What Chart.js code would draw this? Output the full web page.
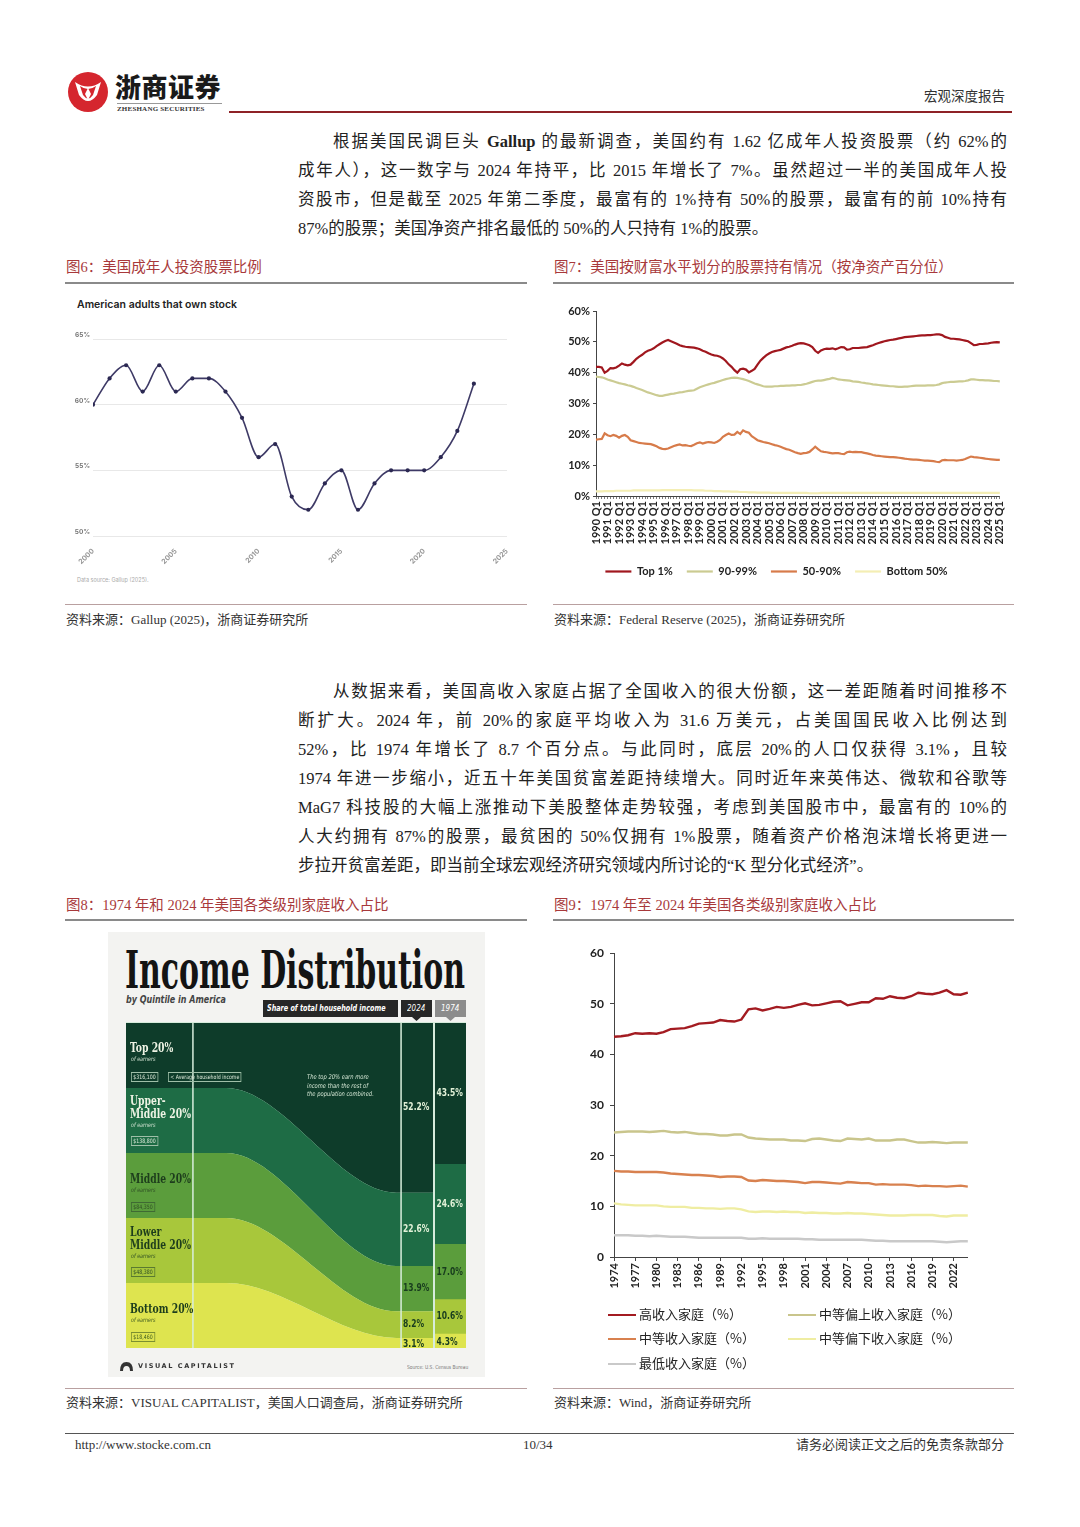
<!DOCTYPE html>
<html>
<head>
<meta charset="utf-8">
<script src="https://cdn.jsdelivr.net/npm/chart.js@4.4.1/dist/chart.umd.min.js"></script>
<style>
  body { margin: 0; background: #fff; }
  #page { position: relative; width: 1080px; height: 1527px; overflow: hidden; background: #fff;
          font-family: "Liberation Serif", "Noto Sans CJK SC", serif; color: #222; }
  .a { position: absolute; white-space: nowrap; }
  .jl { position: absolute; left: 298px; width: 709px; text-align: justify; text-align-last: justify;
        font-size: 16.5px; line-height: 22px; height: 22px; }
  .last { text-align-last: left; }
  .cap { font-size: 14.5px; color: #a8393b; line-height: 20px; }
  .src { font-size: 13px; color: #333; line-height: 18px; }
  .hr { position: absolute; }
  canvas { position: absolute; }
  .nar { font-family: "DejaVu Sans", sans-serif; transform-origin: left top; }
  .qt { position: absolute; font-family: "DejaVu Serif", serif; font-weight: bold;
        font-size: 12.5px; line-height: 13px; white-space: nowrap; transform: scaleX(0.74); transform-origin: left top; }
  .oe { position: absolute; font-family: "DejaVu Sans", sans-serif; font-style: italic;
        font-size: 6px; white-space: nowrap; transform: scaleX(0.8); transform-origin: left top; }
  .bx { position: absolute; font-family: "DejaVu Sans", sans-serif; font-size: 6px;
        line-height: 8px; padding: 0 2px; border: 0.8px solid; white-space: nowrap; transform: scaleX(0.78); transform-origin: left top; }
  .lg { position: absolute; font-family: "Noto Sans CJK SC", sans-serif; font-size: 13px; color: #222; white-space: nowrap; line-height: 16px; }
  .lg i { display: inline-block; width: 28px; height: 0; border-top: 2.5px solid; vertical-align: middle; margin-right: 3px; }
</style>
</head>
<body>
<div id="page">

  <!-- header -->
  <svg class="a" style="left:67px;top:71px" width="42" height="42" viewBox="0 0 42 42">
    <circle cx="21" cy="21" r="20" fill="#d5262e"/>
    <path d="M8 11 Q21 20 34 11 L30 24 Q21 36 12 24 Z" fill="#fff"/>
    <path d="M13 15 Q21 21 29 15 L26 24 Q21 31 16 24 Z" fill="#d5262e"/>
    <path d="M21 17 L24 23 L21 29 L18 23 Z" fill="#fff"/>
  </svg>
  <div class="a" style="left:115px;top:70px;font-family:'Noto Sans CJK SC';font-weight:900;font-size:26px;line-height:32px;color:#1a1a1a;letter-spacing:0.5px">浙商证券</div>
  <div class="hr" style="left:117px;top:103px;width:105px;border-top:1px solid #999"></div>
  <div class="a" style="left:117px;top:105px;font-family:'Liberation Serif';font-weight:bold;font-size:7px;line-height:9px;letter-spacing:0.2px;color:#333">ZHESHANG SECURITIES</div>
  <div class="hr" style="left:229px;top:111px;width:783px;border-top:2px solid #8e2226"></div>
  <div class="a" style="left:924px;top:88px;font-size:13.5px;line-height:18px;color:#333">宏观深度报告</div>

  <!-- paragraph 1 -->
  <div class="jl" style="left:333px;width:674px;top:131px">根据美国民调巨头 <b>Gallup</b> 的最新调查，美国约有 1.62 亿成年人投资股票（约 62%的</div>
  <div class="jl" style="top:160px">成年人），这一数字与 2024 年持平，比 2015 年增长了 7%。虽然超过一半的美国成年人投</div>
  <div class="jl" style="top:189px">资股市，但是截至 2025 年第二季度，最富有的 1%持有 50%的股票，最富有的前 10%持有</div>
  <div class="jl last" style="top:218px">87%的股票；美国净资产排名最低的 50%的人只持有 1%的股票。</div>

  <!-- figure 6 / 7 captions -->
  <div class="a cap" style="left:66px;top:257px">图6：美国成年人投资股票比例</div>
  <div class="hr" style="left:65px;top:282px;width:462px;border-top:2px solid #8a8a8a"></div>
  <div class="a cap" style="left:554px;top:257px">图7：美国按财富水平划分的股票持有情况（按净资产百分位）</div>
  <div class="hr" style="left:553px;top:282px;width:461px;border-top:2px solid #8a8a8a"></div>

  <div class="a" style="left:77px;top:298px;font-family:Inter,'Liberation Sans',sans-serif;font-weight:600;font-size:10.5px;line-height:14px;color:#222">American adults that own stock</div>
  <canvas id="fig6" width="455" height="240" style="left:65px;top:330px"></canvas>
  <div class="a" style="left:77px;top:576px;font-family:Inter,sans-serif;font-size:5.5px;line-height:8px;color:#aaa">Data source: Gallup (2025).</div>

  <canvas id="fig7" width="462" height="287" style="left:553px;top:300px"></canvas>

  <div class="hr" style="left:65px;top:604px;width:462px;border-top:1px solid #b9a0a0"></div>
  <div class="hr" style="left:553px;top:604px;width:461px;border-top:1px solid #b9a0a0"></div>
  <div class="a src" style="left:66px;top:611px">资料来源：Gallup (2025)，浙商证券研究所</div>
  <div class="a src" style="left:554px;top:611px">资料来源：Federal Reserve (2025)，浙商证券研究所</div>

  <!-- paragraph 2 -->
  <div class="jl" style="left:333px;width:674px;top:681px">从数据来看，美国高收入家庭占据了全国收入的很大份额，这一差距随着时间推移不</div>
  <div class="jl" style="top:710px">断扩大。2024 年，前 20%的家庭平均收入为 31.6 万美元，占美国国民收入比例达到</div>
  <div class="jl" style="top:739px">52%，比 1974 年增长了 8.7 个百分点。与此同时，底层 20%的人口仅获得 3.1%，且较</div>
  <div class="jl" style="top:768px">1974 年进一步缩小，近五十年美国贫富差距持续增大。同时近年来英伟达、微软和谷歌等</div>
  <div class="jl" style="top:797px">MaG7 科技股的大幅上涨推动下美股整体走势较强，考虑到美国股市中，最富有的 10%的</div>
  <div class="jl" style="top:826px">人大约拥有 87%的股票，最贫困的 50%仅拥有 1%股票，随着资产价格泡沫增长将更进一</div>
  <div class="jl last" style="top:855px">步拉开贫富差距，即当前全球宏观经济研究领域内所讨论的“K 型分化式经济”。</div>

  <!-- figure 8 / 9 captions -->
  <div class="a cap" style="left:66px;top:895px">图8：1974 年和 2024 年美国各类级别家庭收入占比</div>
  <div class="hr" style="left:65px;top:919px;width:462px;border-top:2px solid #8a8a8a"></div>
  <div class="a cap" style="left:554px;top:895px">图9：1974 年至 2024 年美国各类级别家庭收入占比</div>
  <div class="hr" style="left:553px;top:919px;width:461px;border-top:2px solid #8a8a8a"></div>

  <!-- figure 8 infographic -->
  <div class="hr" style="left:108px;top:932px;width:377px;height:445px;background:#f3f3f1"></div>
  <div id="ttl" class="a" style="left:125px;top:942px;font-family:'DejaVu Serif',serif;font-weight:bold;font-size:52px;line-height:56px;color:#141414;transform-origin:left top">Income Distribution</div>
  <div class="a nar" style="left:126px;top:993px;font-style:italic;font-weight:bold;font-size:10.5px;line-height:12px;color:#444;transform:scaleX(0.76)">by Quintile in America</div>
  <div class="a" style="left:263px;top:1000px;width:135px;height:17px;background:#272727"></div>
  <div class="a nar" style="left:267px;top:1000px;color:#fff;font-style:italic;font-weight:bold;font-size:8.5px;line-height:17px;transform:scaleX(0.76)">Share of total household income</div>
  <div class="a" style="left:401px;top:1000px;width:31px;height:17px;background:#272727"></div>
  <div class="a nar" style="left:407px;top:1000px;color:#fff;font-style:italic;font-size:9px;line-height:17px;transform:scaleX(0.8)">2024</div>
  <div class="a" style="left:435px;top:1000px;width:31px;height:17px;background:#8c8c8c"></div>
  <div class="a nar" style="left:441px;top:1000px;color:#fff;font-style:italic;font-size:9px;line-height:17px;transform:scaleX(0.8)">1974</div>
  <svg class="a" style="left:412px;top:1017px" width="9" height="4"><path d="M0 0 L9 0 L4.5 4 Z" fill="#272727"/></svg>
  <svg class="a" style="left:446px;top:1017px" width="9" height="4"><path d="M0 0 L9 0 L4.5 4 Z" fill="#8c8c8c"/></svg>
  <div class="hr" style="left:126px;top:1022px;width:340px;height:326px;background:#d7ecdc"></div>
  <canvas id="fig8flow" width="307" height="325" style="left:126px;top:1023px"></canvas>
  <canvas id="fig8col" width="31" height="325" style="left:435px;top:1023px"></canvas>

  <div class="qt" style="left:130px;top:1041px;color:#eef3e4">Top 20%</div>
  <div class="oe" style="left:131px;top:1055px;color:#cfe0cf">of earners</div>
  <div class="bx" style="left:131px;top:1072px;color:#dbe8d8;border-color:#9fbfa8">$316,100</div>
  <div class="bx" style="left:168px;top:1072px;color:#dbe8d8;border-color:#9fbfa8">&lt; Average household income</div>
  <div class="a nar" style="left:307px;top:1073px;font-style:italic;font-size:6.5px;line-height:8.5px;color:#d4e6d4;transform:scaleX(0.8)">The top 20% earn more<br>income than the rest of<br>the population combined.</div>

  <div class="qt" style="left:130px;top:1094px;color:#eef3e4">Upper-<br>Middle 20%</div>
  <div class="oe" style="left:131px;top:1121px;color:#cfe0cf">of earners</div>
  <div class="bx" style="left:131px;top:1136px;color:#dbe8d8;border-color:#9fbfa8">$138,800</div>

  <div class="qt" style="left:130px;top:1172px;color:#1d3d1c">Middle 20%</div>
  <div class="oe" style="left:131px;top:1186px;color:#2f4f25">of earners</div>
  <div class="bx" style="left:131px;top:1202px;color:#2f4f25;border-color:#3f6a33">$84,350</div>

  <div class="qt" style="left:130px;top:1225px;color:#1d3d1c">Lower<br>Middle 20%</div>
  <div class="oe" style="left:131px;top:1252px;color:#2f4f25">of earners</div>
  <div class="bx" style="left:131px;top:1267px;color:#2f4f25;border-color:#5a7a30">$48,380</div>

  <div class="qt" style="left:130px;top:1302px;color:#1d3d1c">Bottom 20%</div>
  <div class="oe" style="left:131px;top:1316px;color:#3d5a20">of earners</div>
  <div class="bx" style="left:131px;top:1332px;color:#3d5a20;border-color:#7b8f30">$18,460</div>

  <svg class="a" style="left:119px;top:1361px" width="15" height="11" viewBox="0 0 15 11">
    <path d="M1 10 Q1 1 7.5 1 Q14 1 14 10 L11 10 Q11 5 7.5 5 Q4 5 4 10 Z" fill="#333"/>
  </svg>
  <div class="a" style="left:138px;top:1362px;font-family:'DejaVu Sans',sans-serif;font-weight:bold;font-size:6.5px;line-height:9px;letter-spacing:1.6px;color:#333">VISUAL CAPITALIST</div>
  <div class="a nar" style="left:407px;top:1363px;font-size:5.5px;line-height:8px;color:#777;transform:scaleX(0.8)">Source: U.S. Census Bureau</div>

  <!-- figure 9 -->
  <canvas id="fig9" width="430" height="365" style="left:553px;top:940px"></canvas>

  <div class="hr" style="left:65px;top:1388px;width:462px;border-top:1px solid #b9a0a0"></div>
  <div class="hr" style="left:553px;top:1388px;width:461px;border-top:1px solid #b9a0a0"></div>
  <div class="a src" style="left:66px;top:1394px">资料来源：VISUAL CAPITALIST，美国人口调查局，浙商证券研究所</div>
  <div class="a src" style="left:554px;top:1394px">资料来源：Wind，浙商证券研究所</div>

  <!-- footer -->
  <div class="hr" style="left:65px;top:1433px;width:949px;border-top:1px solid #555"></div>
  <div class="a src" style="left:75px;top:1436px">http://www.stocke.com.cn</div>
  <div class="a src" style="left:523px;top:1436px">10/34</div>
  <div class="a src" style="left:772px;top:1436px;width:232px;text-align:right">请务必阅读正文之后的免责条款部分</div>
</div>

<script>
// ---------- data: figure 6 (Gallup) ----------
const years6 = [2000, 2001, 2002, 2003, 2004, 2005, 2006, 2007, 2008, 2009, 2010, 2011,
                2012, 2013, 2014, 2015, 2016, 2017, 2018, 2019, 2020, 2021, 2022, 2023];
const ownStock6 = [60, 62, 63, 61, 63, 61, 62, 62, 61, 59, 56, 57,
                   53, 52, 54, 55, 52, 54, 55, 55, 55, 56, 58, 61.6];

// ---------- data: figure 7 (Fed DFA, quarterly 1990Q1-2025Q1) ----------
const quarters7 = [];
for (let yr = 1990; yr <= 2025; yr++) {
  for (let q = 1; q <= 4; q++) {
    if (yr < 2025 || q === 1) quarters7.push(yr + ' Q' + q);
  }
}
const top1 = [
  41.9, 41.9, 41.7, 40.0, 40.6, 41.5, 41.4, 41.7, 42.3, 43.0, 42.6, 42.4,
  42.6, 43.5, 44.5, 45.2, 45.8, 46.6, 47.1, 47.4, 47.9, 48.6, 49.2, 49.8,
  50.3, 50.6, 50.2, 49.8, 49.4, 48.9, 48.6, 48.4, 48.3, 48.2, 48.1, 47.9,
  47.6, 47.1, 46.8, 46.3, 45.9, 45.6, 45.5, 45.2, 44.6, 43.8, 42.7, 41.9,
  40.8, 40.0, 41.1, 41.3, 41.0, 40.1, 40.6, 41.2, 42.6, 43.9, 44.8, 45.6,
  46.2, 46.7, 47.0, 47.2, 47.4, 47.8, 48.2, 48.4, 48.7, 49.1, 49.4, 49.6,
  49.5, 49.2, 48.9, 48.3, 47.1, 46.4, 47.2, 47.6, 47.8, 47.7, 47.9, 47.6,
  47.9, 48.3, 48.2, 47.5, 47.6, 48.0, 48.0, 48.0, 48.1, 48.2, 48.3, 48.6,
  48.9, 49.3, 49.6, 49.9, 50.2, 50.4, 50.6, 50.7, 50.9, 51.1, 51.3, 51.5,
  51.6, 51.7, 51.8, 51.9, 52.0, 52.1, 52.1, 52.2, 52.2, 52.3, 52.4, 52.4,
  52.2, 51.6, 51.3, 51.0, 51.0, 50.9, 50.8, 50.6, 50.4, 50.2, 49.6, 48.9,
  49.0, 49.3, 49.3, 49.4, 49.5, 49.7, 49.8, 49.9, 49.8
];
const p90to99 = [
  38.7, 38.6, 38.5, 38.2, 37.8, 37.5, 37.2, 36.9, 36.6, 36.4, 36.2, 35.9,
  35.7, 35.4, 35.0, 34.7, 34.4, 34.0, 33.6, 33.3, 33.0, 32.7, 32.5, 32.5,
  32.7, 32.9, 33.1, 33.2, 33.4, 33.6, 33.7, 33.9, 34.1, 34.2, 34.3, 34.8,
  35.3, 35.6, 35.9, 36.2, 36.5, 36.7, 37.0, 37.3, 37.6, 37.9, 38.1, 38.3,
  38.4, 38.3, 38.1, 37.9, 37.6, 37.3, 36.9, 36.5, 36.2, 35.9, 35.6, 35.5,
  35.5, 35.5, 35.6, 35.6, 35.7, 35.7, 35.8, 35.8, 35.9, 35.9, 36.0, 36.0,
  36.2, 36.4, 36.7, 37.0, 37.3, 37.4, 37.4, 37.6, 37.8, 38.0, 38.3, 38.1,
  37.8, 37.7, 37.6, 37.5, 37.4, 37.2, 37.1, 37.0, 36.8, 36.7, 36.5, 36.4,
  36.2, 36.1, 36.0, 35.9, 35.8, 35.7, 35.6, 35.6, 35.5, 35.4, 35.4, 35.5,
  35.5, 35.6, 35.7, 35.8, 35.8, 35.8, 35.8, 35.9, 35.9, 35.9, 36.0, 36.2,
  36.6, 36.8, 36.9, 37.0, 37.0, 37.1, 37.2, 37.2, 37.3, 37.5, 37.8, 37.8,
  37.7, 37.6, 37.6, 37.5, 37.5, 37.4, 37.3, 37.3, 37.2
];
const p50to90 = [
  18.3, 18.4, 18.5, 20.3, 19.7, 19.4, 19.8, 19.5, 18.9, 19.5, 19.8, 19.2,
  18.1, 17.8, 17.5, 17.2, 17.1, 17.0, 16.9, 16.8, 16.5, 16.1, 15.6, 15.3,
  15.2, 15.4, 15.8, 16.2, 16.5, 16.7, 16.4, 16.5, 16.3, 16.2, 16.6, 17.1,
  17.4, 17.0, 17.3, 17.5, 17.4, 17.2, 17.6, 18.2, 19.2, 19.8, 20.3, 19.8,
  19.9, 20.8, 20.1, 21.3, 20.8, 20.5, 19.4, 18.8, 18.1, 17.8, 17.5, 17.3,
  17.1, 16.8, 16.5, 16.3, 16.0, 15.6, 15.2, 15.0, 14.6, 14.2, 13.9, 13.7,
  13.9, 14.0, 14.3, 15.1, 16.0, 15.2, 14.5, 14.3, 14.2, 14.0, 13.8, 13.9,
  13.9, 13.7, 13.6, 14.2, 14.4, 14.2, 14.3, 14.2, 14.2, 14.0, 13.8, 13.6,
  13.3, 13.1, 13.0, 12.9, 12.8, 12.7, 12.6, 12.6, 12.5, 12.4, 12.3, 12.1,
  12.0, 11.9, 11.8, 11.8, 11.7, 11.6, 11.5, 11.5, 11.4, 11.3, 11.1, 11.0,
  11.6, 11.7, 11.6, 11.6, 11.6, 11.5, 11.6, 11.7, 12.0, 12.4, 12.8, 12.6,
  12.5, 12.4, 12.3, 12.1, 12.0, 11.9, 11.8, 11.7, 11.7
];
const bottom50 = [
  1.5, 1.5, 1.5, 1.6, 1.6, 1.6, 1.6, 1.7, 1.7, 1.7, 1.7, 1.7,
  1.7, 1.8, 1.8, 1.8, 1.8, 1.8, 1.8, 1.8, 1.8, 1.8, 1.8, 1.9,
  1.9, 1.9, 1.9, 1.9, 1.9, 1.9, 1.9, 1.9, 1.9, 1.9, 1.8, 1.8,
  1.8, 1.8, 1.7, 1.7, 1.7, 1.6, 1.6, 1.6, 1.5, 1.5, 1.5, 1.4,
  1.4, 1.4, 1.3, 1.3, 1.3, 1.2, 1.2, 1.2, 1.1, 1.1, 1.1, 1.1,
  1.1, 1.0, 1.0, 1.0, 1.0, 1.0, 1.0, 1.0, 1.0, 1.0, 1.0, 1.0,
  1.0, 1.0, 0.9, 0.9, 0.9, 0.9, 1.0, 1.0, 1.0, 1.0, 1.0, 1.0,
  1.0, 1.0, 1.0, 1.0, 1.0, 1.0, 1.0, 1.0, 1.0, 1.0, 1.0, 1.0,
  1.0, 1.0, 1.0, 1.0, 1.0, 1.0, 1.0, 1.0, 1.0, 1.0, 1.0, 1.0,
  1.0, 1.0, 1.0, 1.0, 1.0, 1.0, 1.0, 1.0, 1.0, 1.0, 1.0, 1.0,
  1.0, 1.0, 1.0, 1.0, 1.0, 1.0, 1.0, 1.0, 1.0, 1.0, 1.0, 1.0,
  1.0, 1.0, 1.0, 1.0, 1.0, 1.0, 1.0, 1.0, 1.0
];

// ---------- data: figure 8 (quintile shares) ----------
const quintiles = ['Bottom 20%', 'Lower Middle 20%', 'Middle 20%', 'Upper-Middle 20%', 'Top 20%'];
const populationShare = [20, 20, 20, 20, 20];
const share2024 = [3.1, 8.2, 13.9, 22.6, 52.2];
const share1974 = [4.3, 10.6, 17.0, 24.6, 43.5];

// ---------- data: figure 9 (Census, 1974-2024) ----------
const years9 = [];
for (let y = 1974; y <= 2024; y++) years9.push(String(y));
const highest = [
  43.5, 43.6, 43.8, 44.2, 44.1, 44.2, 44.1, 44.4, 45.0, 45.1,
  45.2, 45.6, 46.1, 46.2, 46.3, 46.8, 46.6, 46.5, 46.9, 48.9,
  49.1, 48.7, 49.0, 49.4, 49.2, 49.4, 49.8, 50.1, 49.7, 49.8,
  50.1, 50.4, 50.5, 49.7, 50.0, 50.3, 50.3, 51.1, 51.0, 51.5,
  51.2, 51.1, 51.5, 52.2, 52.0, 51.9, 52.2, 52.7, 51.9, 51.8, 52.2
];
const fourth = [
  24.6, 24.7, 24.8, 24.8, 24.8, 24.7, 24.8, 24.9, 24.7, 24.6,
  24.7, 24.5, 24.3, 24.3, 24.2, 24.0, 24.0, 24.2, 24.2, 23.6,
  23.4, 23.3, 23.2, 23.2, 23.2, 23.0, 23.0, 22.9, 23.3, 23.4,
  23.2, 23.0, 22.9, 23.4, 23.3, 23.2, 23.4, 23.0, 23.0, 23.0,
  23.2, 23.2, 22.9, 22.6, 22.6, 22.7, 22.6, 22.5, 22.6, 22.6, 22.6
];
const third = [
  17.0, 16.9, 16.9, 16.8, 16.8, 16.8, 16.8, 16.7, 16.5, 16.4,
  16.3, 16.2, 16.2, 16.1, 16.0, 15.8, 15.9, 15.9, 15.8, 15.1,
  15.0, 15.2, 15.1, 15.0, 15.0, 14.9, 14.8, 14.6, 14.8, 14.8,
  14.7, 14.6, 14.5, 14.8, 14.7, 14.6, 14.6, 14.3, 14.4, 14.3,
  14.3, 14.3, 14.2, 14.0, 14.1, 14.0, 14.0, 13.9, 14.0, 14.1, 13.9
];
const second = [
  10.6, 10.4, 10.3, 10.2, 10.2, 10.2, 10.2, 10.0, 9.9, 9.9,
  9.9, 9.7, 9.7, 9.6, 9.6, 9.5, 9.6, 9.6, 9.4, 9.0,
  8.9, 9.0, 9.0, 8.9, 9.0, 8.9, 8.9, 8.7, 8.8, 8.7,
  8.7, 8.6, 8.6, 8.7, 8.6, 8.6, 8.5, 8.4, 8.3, 8.2,
  8.2, 8.2, 8.3, 8.3, 8.3, 8.3, 8.1, 8.0, 8.2, 8.2, 8.2
];
const lowest = [
  4.3, 4.3, 4.3, 4.2, 4.2, 4.1, 4.2, 4.1, 4.0, 4.0,
  4.0, 3.9, 3.8, 3.8, 3.8, 3.8, 3.8, 3.8, 3.8, 3.6,
  3.6, 3.7, 3.6, 3.6, 3.6, 3.6, 3.6, 3.5, 3.5, 3.4,
  3.4, 3.4, 3.4, 3.4, 3.4, 3.4, 3.3, 3.2, 3.2, 3.1,
  3.1, 3.1, 3.1, 3.1, 3.1, 3.1, 3.0, 2.9, 3.0, 3.1, 3.1
];
const names9 = ['高收入家庭（%）', '中等偏上收入家庭（%）', '中等收入家庭（%）', '中等偏下收入家庭（%）', '最低收入家庭（%）'];

// ---------- common ----------
Chart.defaults.animation = false;
Chart.defaults.responsive = false;
Chart.defaults.plugins.tooltip.enabled = false;
const boldFont = (size) => ({ family: "Lato, 'Liberation Sans', sans-serif", size: size, weight: 'bold' });

// figure 6
new Chart(document.getElementById('fig6'), {
  type: 'line',
  data: {
    datasets: [{
      data: years6.map((x, i) => ({ x: x, y: ownStock6[i] })),
      borderColor: '#3e3a66',
      borderWidth: 1.6,
      pointRadius: 2.1,
      pointBackgroundColor: '#2b2852',
      pointBorderWidth: 0,
      cubicInterpolationMode: 'monotone',
    }],
  },
  options: {
    layout: { padding: { top: 9, right: 13 } },
    plugins: { legend: { display: false } },
    scales: {
      x: {
        type: 'linear', min: 2000, max: 2025,
        ticks: { stepSize: 5, minRotation: 45, maxRotation: 45, color: '#999',
                 font: { family: 'Inter, sans-serif', size: 7, weight: 'bold' }, callback: (v) => String(v) },
        grid: { display: false },
        border: { display: false },
        afterFit: (s) => { s.height = 34; },
      },
      y: {
        min: 50, max: 65,
        ticks: { stepSize: 5, color: '#777', labelOffset: -4, padding: 3,
                 font: { family: 'Inter, sans-serif', size: 6.5, weight: 'bold' }, callback: (v) => v + '%' },
        grid: { color: '#e8e8e8', drawTicks: false },
        border: { display: false },
        afterFit: (s) => { s.width = 28; },
      },
    },
  },
});

// figure 7
const colors7 = ['#a0171e', '#cbcb92', '#d77b4a', '#f4eeb4'];
const names7 = ['Top 1%', '90-99%', '50-90%', 'Bottom 50%'];
new Chart(document.getElementById('fig7'), {
  type: 'line',
  data: {
    labels: quarters7,
    datasets: [top1, p90to99, p50to90, bottom50].map((d, i) => ({
      label: names7[i], data: d, borderColor: colors7[i], backgroundColor: colors7[i],
      borderWidth: 2.2, pointRadius: 0, tension: 0,
    })),
  },
  options: {
    layout: { padding: { top: 11, right: 15 } },
    plugins: {
      legend: {
        position: 'bottom',
        labels: { usePointStyle: true, pointStyle: 'line', pointStyleWidth: 26, boxHeight: 10,
                  padding: 14, color: '#222', font: boldFont(11) },
      },
    },
    scales: {
      x: {
        ticks: { autoSkip: false, minRotation: 90, maxRotation: 90, padding: 2, color: '#222', font: boldFont(11),
                 callback: (v, i) => (i % 4 === 0 ? quarters7[i] : '') },
        grid: { drawOnChartArea: false, tickLength: 3, color: '#444', lineWidth: 0.7 },
        border: { color: '#444', width: 1 },
        afterFit: (s) => { s.height = 56; },
      },
      y: {
        min: 0, max: 60,
        ticks: { stepSize: 10, color: '#222', font: boldFont(11), callback: (v) => v + '%' },
        grid: { drawOnChartArea: false, tickLength: 3, color: '#444' },
        border: { color: '#444', width: 1 },
        afterFit: (s) => { s.width = 43; },
      },
    },
  },
});

// figure 8: flowing quintile bands (equal population -> 2024 share) and 1974 column
const bandColors = ['#dee44f', '#a8c73b', '#5b9d3c', '#1e6c45', '#0e3c2a'];
const FLOW_X = [0, 32.6, 88, 100];     // stage positions along the flow (percent of width)
const DIVIDERS = [21.8, 89.6];         // label column edge and start of the 2024 column

const shareLabels = {
  id: 'shareLabels',
  afterDatasetsDraw(chart, args, opts) {
    const ctx = chart.ctx;
    const y = chart.scales.y;
    const x0 = opts.xValue === undefined ? chart.chartArea.left + 1.5
                                         : chart.scales.x.getPixelForValue(opts.xValue) + 2;
    let cum = 0;
    opts.values.forEach((v, i) => {
      const mid = y.getPixelForValue(cum + v / 2);
      cum += v;
      ctx.save();
      ctx.translate(x0, i === 0 ? mid + 1 : mid);
      ctx.scale(0.76, 1);
      ctx.font = "bold 10px 'DejaVu Sans', sans-serif";
      ctx.fillStyle = i >= 3 ? '#e2f1d8' : '#183c1e';
      ctx.textAlign = 'left';
      ctx.textBaseline = 'middle';
      ctx.fillText(v.toFixed(1) + '%', 0, 0);
      ctx.restore();
    });
  },
};
const dividers = {
  id: 'dividers',
  afterDatasetsDraw(chart, args, opts) {
    const ctx = chart.ctx;
    const { top, bottom } = chart.chartArea;
    ctx.save();
    ctx.strokeStyle = '#d9eedd';
    ctx.lineWidth = 1.5;
    opts.at.forEach((v) => {
      const px = chart.scales.x.getPixelForValue(v);
      ctx.beginPath();
      ctx.moveTo(px, top);
      ctx.lineTo(px, bottom);
      ctx.stroke();
    });
    ctx.restore();
  },
};

new Chart(document.getElementById('fig8flow'), {
  type: 'line',
  data: {
    datasets: quintiles.map((q, i) => ({
      label: q,
      data: [
        { x: FLOW_X[0], y: populationShare[i] },
        { x: FLOW_X[1], y: populationShare[i] },
        { x: FLOW_X[2], y: share2024[i] },
        { x: FLOW_X[3], y: share2024[i] },
      ],
      fill: i === 0 ? 'origin' : '-1',
      backgroundColor: bandColors[i],
      borderWidth: 0,
      pointRadius: 0,
      cubicInterpolationMode: 'monotone',
    })),
  },
  options: {
    layout: { padding: 0 },
    plugins: {
      legend: { display: false },
      shareLabels: { values: share2024, xValue: DIVIDERS[1] },
      dividers: { at: DIVIDERS },
    },
    scales: {
      x: { type: 'linear', min: 0, max: 100, display: false },
      y: { stacked: true, min: 0, max: 100, display: false },
    },
  },
  plugins: [shareLabels, dividers],
});

new Chart(document.getElementById('fig8col'), {
  type: 'bar',
  data: {
    labels: ['1974'],
    datasets: quintiles.map((q, i) => ({
      label: q, data: [share1974[i]], backgroundColor: bandColors[i],
      borderWidth: 0, barPercentage: 1, categoryPercentage: 1,
    })),
  },
  options: {
    layout: { padding: 0 },
    plugins: { legend: { display: false }, shareLabels: { values: share1974 } },
    scales: {
      x: { stacked: true, display: false },
      y: { stacked: true, min: 0, max: 100, display: false },
    },
  },
  plugins: [shareLabels],
});

// figure 9
const colors9 = ['#a31b21', '#c9c58c', '#d8814f', '#efeda2', '#c9c9c9'];
new Chart(document.getElementById('fig9'), {
  type: 'line',
  data: {
    labels: years9,
    datasets: [highest, fourth, third, second, lowest].map((d, i) => ({
      label: names9[i], data: d, borderColor: colors9[i], borderWidth: 2.4, pointRadius: 0, tension: 0,
    })),
  },
  options: {
    layout: { padding: { top: 11, right: 15 } },
    plugins: { legend: { display: false } },
    scales: {
      x: {
        ticks: { autoSkip: false, minRotation: 90, maxRotation: 90, padding: 2, color: '#222', font: boldFont(11),
                 callback: (v, i) => (i % 3 === 0 ? years9[i] : '') },
        grid: { drawOnChartArea: false, tickLength: 4,
                color: (c) => (c.index % 3 === 0 ? '#444' : 'rgba(0,0,0,0)') },
        border: { color: '#444', width: 1 },
        afterFit: (s) => { s.height = 48; },
      },
      y: {
        min: 0, max: 60,
        ticks: { stepSize: 10, color: '#222', padding: 6, font: boldFont(12) },
        grid: { drawOnChartArea: false, tickLength: 4, color: '#444' },
        border: { color: '#444', width: 1 },
        afterFit: (s) => { s.width = 61; },
      },
    },
  },
});

// figure 9 legend, two columns
const legendPos = [[608, 1306], [788, 1306], [608, 1330], [788, 1330], [608, 1355]];
names9.forEach((n, i) => {
  const d = document.createElement('div');
  d.className = 'lg';
  d.style.left = legendPos[i][0] + 'px';
  d.style.top = legendPos[i][1] + 'px';
  d.innerHTML = '<i style="border-color:' + colors9[i] + '"></i>' + n;
  document.getElementById('page').appendChild(d);
});

// squeeze the infographic title into its frame
const ttl = document.getElementById('ttl');
ttl.style.transform = 'scaleX(' + (340 / ttl.getBoundingClientRect().width) + ')';
</script>
</body>
</html>
